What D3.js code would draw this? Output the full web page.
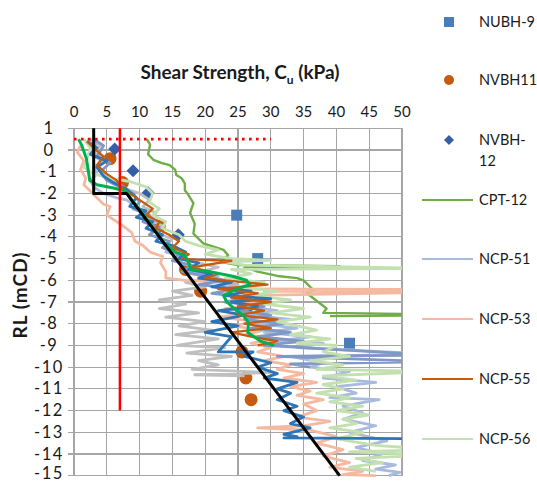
<!DOCTYPE html>
<html>
<head>
<meta charset="utf-8">
<script src="https://cdn.jsdelivr.net/npm/d3@7"></script>
<style>
  html, body { margin: 0; padding: 0; background: #fff; }
  svg { display: block; }
  text { font-family: Lato, "Open Sans", sans-serif; fill: #1a1a1a; }
</style>
</head>
<body>
<script>
// Axis ticks
const xTicks = [0, 5, 10, 15, 20, 25, 30, 35, 40, 45, 50];
const yTicks = [1, 0, -1, -2, -3, -4, -5, -6, -7, -8, -9, -10, -11, -12, -13, -14, -15];

// Laboratory / in-situ test points [Cu (kPa), RL (mCD)]
const nubh9 = [[24.8, -3.0], [28.0, -5.0], [42.0, -8.9]];
const nvbh11 = [[5.5, -0.4], [7.4, -1.5], [13.0, -3.5], [17.0, -5.5], [19.3, -6.5], [25.6, -9.3], [26.2, -10.5], [27.0, -11.5]];
const nvbh12 = [[6.2, 0.05], [9.0, -0.95], [11.3, -1.97], [15.9, -3.9], [20.6, -5.8], [26.5, -7.3]];

// CPT-derived profiles [Cu (kPa), RL (mCD)]
const cpt12 = [[11.1, 0.5], [11.6, 0.25], [11.3, -0.2], [12.1, -0.45], [13.4, -0.6], [14.6, -0.7], [15.4, -0.9], [15.6, -1.15],
  [16.4, -1.3], [16.9, -1.55], [16.9, -1.85], [17.4, -2.05], [18.2, -2.45], [17.7, -2.9], [18.4, -3.4], [18.2, -3.85],
  [19.7, -4.3], [22.8, -4.6], [23.5, -4.85], [22.3, -5.15], [25.0, -5.3], [40.5, -5.35], [26.0, -5.4], [28.0, -5.6],
  [31.0, -5.8], [34.0, -5.9], [35.0, -6.0], [36.5, -6.45], [35.5, -6.6], [38.5, -7.3], [38.0, -7.5], [60.0, -7.6], [39.0, -7.65]];

const ncp51 = [[2, 0.5], [3.5, 0.3], [2.5, 0], [3, -0.3], [4.5, -0.5], [3, -0.8], [3.5, -1.1], [2.5, -1.4], [3, -1.7], [4.5, -2.0],
  [6.5, -2.2], [8, -2.3], [9.5, -2.6], [11, -2.9], [10, -3.1], [12.5, -3.3], [11, -3.6], [13.5, -3.9], [12.5, -4.2], [15, -4.4],
  [14, -4.7], [17, -4.9], [16, -5.2], [19, -5.4], [17.5, -5.6], [22, -5.8], [20, -6.0], [25, -6.2], [22, -6.4], [28, -6.6],
  [24, -6.8], [30, -7.0], [26, -7.2], [31, -7.4], [27, -7.6], [33, -7.8], [28, -8.0], [34, -8.2], [29, -8.4], [36, -8.6],
  [31, -8.8], [38, -8.9], [34, -9.1], [55, -9.4], [33, -9.5], [38, -9.8], [36, -10.0], [42, -10.2], [38, -10.5], [46, -10.7],
  [40, -10.9], [43, -11.2], [39, -11.4], [46.5, -11.5], [41, -11.8], [44, -12.1], [41, -12.4], [46, -12.7], [42, -13.0],
  [47.7, -13.4], [43, -13.7], [47, -14.0], [44, -14.3], [49, -14.5], [46, -14.7], [49.7, -14.85], [48, -15.0]];

const ncp53 = [[1, 0.2], [0.5, -0.1], [1.5, -0.5], [1, -0.9], [1.8, -1.3], [1.5, -1.6], [2.5, -1.9], [3.5, -2.2], [4.5, -2.5],
  [5.5, -2.6], [5, -3.0], [6.5, -3.3], [7.5, -3.5], [8.8, -3.8], [9.3, -4.2], [10.5, -4.4], [11.6, -4.7], [13.5, -4.9],
  [13.2, -5.2], [14, -5.6], [14, -5.9], [17, -6.0], [20, -6.05], [24, -6.1], [22, -6.3], [27, -6.4], [55, -6.42], [29, -6.5],
  [55, -6.55], [27, -6.7], [25, -6.9], [28, -7.1], [23, -7.3], [27, -7.5], [22, -7.7], [28, -7.9], [24, -8.1], [29, -8.3],
  [26, -8.5], [31, -8.7], [27, -8.9], [30, -9.1], [28, -9.3], [32, -9.5], [29, -9.7], [33, -9.9], [31, -10.1], [35, -10.3],
  [32, -10.5], [37, -10.7], [33, -10.9], [36, -11.1], [34, -11.3], [38, -11.5], [35, -11.7], [37, -12.0], [34, -12.3],
  [39, -12.5], [35, -12.7], [28, -12.8], [36, -12.9], [40, -13.2], [37, -13.5], [41, -13.8], [38, -14.1], [42, -14.4],
  [39, -14.6], [44, -14.8], [41, -14.95], [46, -15.0]];

const ncp55 = [[2, 0.4], [3, 0.1], [4.5, -0.3], [3.5, -0.7], [5, -1.1], [6.5, -1.4], [7.5, -1.8], [9, -2.1], [10.5, -2.4],
  [12, -2.7], [11, -3.0], [13, -3.3], [12.5, -3.6], [14.5, -3.9], [16, -4.2], [15, -4.5], [17.5, -4.8], [16.5, -5.0],
  [18.7, -5.05], [24, -5.1], [18, -5.4], [22, -5.7], [20, -5.9], [23, -6.0], [29.5, -6.2], [22, -6.4], [28, -6.6],
  [24, -6.8], [30, -7.0], [25, -7.2], [29, -7.4], [25, -7.6], [31, -7.8], [26, -8.0], [30, -8.2], [24, -8.4], [27, -8.6],
  [31, -8.8], [28, -9.0]];

const ncp56 = [[1.5, 0.5], [2.5, 0.1], [2, -0.4], [1.5, -0.8], [3, -1.1], [5.5, -1.3], [8.5, -1.45], [11, -1.7], [12, -2.0],
  [11.5, -2.4], [13, -2.7], [12, -3.0], [14, -3.3], [13.5, -3.6], [16, -3.9], [17, -4.2], [19, -4.4], [22, -4.6], [20, -4.8],
  [24, -5.0], [30, -5.08], [23, -5.15], [26, -5.3], [55, -5.45], [24, -5.5], [27, -5.7], [23, -5.9], [29, -6.1], [25, -6.3],
  [31, -6.5], [27, -6.7], [33, -6.9], [29, -7.1], [35, -7.3], [30, -7.5], [36, -7.7], [31, -7.9], [34, -8.1], [37, -8.3],
  [33, -8.5], [39, -8.7], [34, -8.9], [40, -9.0], [38, -9.3], [42, -9.5], [36, -9.7], [41, -9.9], [37, -10.1], [55, -10.2],
  [38, -10.4], [43, -10.6], [38, -10.8], [41, -11.0], [37, -11.2], [42, -11.4], [39, -11.6], [44, -11.8], [40, -12.0],
  [45, -12.2], [41, -12.4], [43, -12.6], [39, -12.8], [44, -13.0], [40, -13.3], [46, -13.6], [55, -13.8], [42, -13.9],
  [55, -14.05], [43, -14.2], [47, -14.4], [42, -14.6], [46, -14.8]];

// Further CPT profiles plotted without a legend entry
const ncpGrey = [[2.5, 0.5], [4, 0.2], [3, -0.1], [4.5, -0.4], [3.5, -0.8], [5, -1.2], [6.5, -1.5], [8, -1.8], [10, -2.0],
  [11.5, -2.3], [10.5, -2.6], [12.5, -2.9], [11.5, -3.2], [13.5, -3.5], [12.5, -3.8], [15, -4.1], [14, -4.4], [17, -4.7],
  [16, -5.0], [19, -5.2], [22, -5.4], [18, -5.7], [21, -5.9], [17, -6.1], [20, -6.3], [15, -6.5], [18, -6.7], [13, -6.9],
  [17, -7.1], [13, -7.3], [19, -7.5], [14, -7.7], [20, -7.9], [16, -8.1], [21, -8.3], [15.5, -8.5], [22, -8.7], [15.7, -9.0],
  [23, -9.1], [17.2, -9.35], [24, -9.5], [19, -9.7], [22, -9.9], [18, -10.1], [30, -10.25], [18.4, -10.35], [26, -10.4]];

const ncpDark = [[2, 0.4], [3.5, 0.1], [2.5, -0.2], [5, -0.5], [3.5, -0.8], [4.5, -1.2], [6, -1.5], [8, -1.8], [9.5, -2.2],
  [8.5, -2.6], [11, -2.8], [9.5, -3.1], [12, -3.3], [11, -3.6], [13.5, -3.9], [12.5, -4.2], [15, -4.4], [17, -4.7], [16, -5.0],
  [19, -5.2], [17.5, -5.5], [21, -5.7], [19, -5.9], [24, -6.1], [21, -6.3], [27, -6.5], [23, -6.7], [30, -6.85], [24, -7.0],
  [28, -7.2], [22, -7.4], [26, -7.6], [21, -7.9], [25, -8.1], [20, -8.4], [24, -8.6], [22, -9.3], [27.3, -9.3], [26, -9.5],
  [30, -9.8], [28, -10.0], [31, -10.3], [29, -10.5], [34, -10.7], [31, -11.0], [33, -11.2], [31, -11.5], [34, -11.8],
  [32, -12.0], [35, -12.3], [33, -12.6], [36, -12.8], [32, -13.1], [34, -13.2], [32, -13.26], [55, -13.3]];

const ncpSlate = [[3, 0.5], [4.5, 0.2], [3.5, -0.3], [5.5, -0.6], [4, -1.0], [5, -1.4], [7, -1.7], [9, -2.0], [10, -2.4],
  [9, -2.7], [11.5, -3.0], [10.5, -3.3], [13, -3.6], [11.5, -3.9], [14.5, -4.2], [13.5, -4.5], [16, -4.8], [15, -5.1],
  [18, -5.3], [16.5, -5.6], [20, -5.8], [23, -6.0], [19, -6.2], [25, -6.4], [21, -6.6], [27, -6.8], [23, -7.0], [29, -7.2],
  [25, -7.4], [30, -7.6], [26, -7.8], [32, -8.0], [27, -8.2], [33, -8.4], [28, -8.6], [35, -8.8], [29, -9.0], [55, -9.45],
  [31, -9.5], [55, -9.75], [33, -9.85], [36, -10.0]];

// Design line and reference lines
const designLine = [[0.7, 0.5], [1.2, 0.2], [1.9, -0.4], [2.2, -1.0], [2.4, -1.4], [3.5, -1.6], [6, -1.75], [8, -1.9], [8.6, -2.2],
  [9.6, -2.6], [10.6, -3.0], [11.6, -3.4], [12.8, -3.9], [13.8, -4.3], [15.5, -4.7], [16.9, -4.85], [17.5, -5.2], [17.8, -5.5],
  [20.7, -5.6], [24, -5.8], [26.3, -6.0], [26.8, -6.2], [24.8, -6.4], [22.8, -6.7], [23.3, -7.0], [24.8, -7.4], [25.8, -7.6],
  [26.6, -7.95], [26.5, -8.4], [28.4, -8.8], [30.5, -9.0]];
const boundLine = [[3, 1], [3, -2], [8, -2], [40.5, -15]];
const redVertical = [[7, 1], [7, -12]];
const redDotted = [[0, 0.5], [30, 0.5]];

const W = 537, H = 483;
const x = d3.scaleLinear().domain([0, 50]).range([74, 402]);
const y = d3.scaleLinear().domain([1, -15]).range([128.3, 475.7]);

const svg = d3.select("body").append("svg").attr("width", W).attr("height", H);

svg.append("clipPath").attr("id", "plot")
  .append("rect").attr("x", x(0)).attr("y", y(1) - 2).attr("width", x(50) - x(0)).attr("height", y(-15) - y(1) + 4);

// Grid
const grid = svg.append("g").attr("stroke", "#a6a6a6").attr("stroke-width", 1.2).attr("shape-rendering", "crispEdges");
grid.selectAll(".vx").data(xTicks).join("line")
  .attr("x1", d => x(d)).attr("x2", d => x(d)).attr("y1", y(1)).attr("y2", y(-15));
grid.selectAll(".hy").data(yTicks).join("line")
  .attr("x1", x(0) - 6).attr("x2", x(50)).attr("y1", d => y(d)).attr("y2", d => y(d));

// Tick labels
svg.append("g").selectAll("text").data(xTicks).join("text")
  .attr("x", d => x(d)).attr("y", 117).attr("text-anchor", "middle").attr("font-size", 15).text(d => d);
// the lowest label sits against the bottom edge, so it is lifted slightly
svg.append("g").selectAll("text").data(yTicks).join("text")
  .attr("x", 49).attr("y", d => Math.min(y(d), 473)).attr("dy", "0.34em").attr("text-anchor", "middle").attr("font-size", 16.5)
  .attr("letter-spacing", 1.5)
  .text(d => d < 0 ? "-" + Math.abs(d) : d);

// Axis titles
const title = svg.append("text").attr("x", 240).attr("y", 79).attr("text-anchor", "middle")
  .attr("font-size", 19).attr("font-weight", "bold");
title.append("tspan").text("Shear Strength, C");
title.append("tspan").attr("font-size", 12).attr("dy", 5).text("u");
title.append("tspan").attr("dy", -5).text(" (kPa)");

svg.append("text").attr("transform", "translate(27,295) rotate(-90)").attr("text-anchor", "middle")
  .attr("font-size", 19).attr("font-weight", "bold").attr("letter-spacing", 1).text("RL (mCD)");

const line = d3.line().x(d => x(d[0])).y(d => y(d[1]));
const plot = svg.append("g").attr("clip-path", "url(#plot)");

// Test points
const ptSq = 11, ptDia = 13;
plot.selectAll(".sq").data(nubh9).join("rect")
  .attr("x", d => x(d[0]) - ptSq / 2).attr("y", d => y(d[1]) - ptSq / 2)
  .attr("width", ptSq).attr("height", ptSq).attr("fill", "#4a7ebb");
plot.selectAll(".ci").data(nvbh11).join("circle")
  .attr("cx", d => x(d[0])).attr("cy", d => y(d[1])).attr("r", 6.5).attr("fill", "#c55a11");
plot.selectAll(".di").data(nvbh12).join("path")
  .attr("d", d3.symbol(d3.symbolSquare, ptDia * ptDia / 2))
  .attr("transform", d => `translate(${x(d[0])},${y(d[1])}) rotate(45)`).attr("fill", "#3560a8");

// Profiles
const traces = [
  { data: cpt12, color: "#70ad47", w: 2.4 },
  { data: ncpGrey, color: "#bfbfbf", w: 2.8 },
  { data: ncp51, color: "#a9badf", w: 2.8 },
  { data: ncp53, color: "#f4b9a0", w: 2.8 },
  { data: ncpSlate, color: "#7f98c6", w: 2.8 },
  { data: ncp56, color: "#c3e0b0", w: 2.8 },
  { data: ncpDark, color: "#2e75b6", w: 2.8 },
  { data: ncp55, color: "#c55a11", w: 2.3 },
  { data: designLine, color: "#00b050", w: 3 },
  { data: boundLine, color: "#000000", w: 3 },
  { data: redVertical, color: "#ff0000", w: 2.5 }
];
plot.selectAll(".tr").data(traces).join("path")
  .attr("d", d => line(d.data)).attr("fill", "none")
  .attr("stroke", d => d.color).attr("stroke-width", d => d.w).attr("stroke-linejoin", "round");
plot.append("path").attr("d", line(redDotted)).attr("fill", "none")
  .attr("stroke", "#ff0000").attr("stroke-width", 2.6).attr("stroke-dasharray", "2.6,4.4");

// Legend
const legend = svg.append("g");
const lx = 449, tx = 479;
legend.append("rect").attr("x", lx - 5).attr("y", 17).attr("width", 10).attr("height", 10).attr("fill", "#4a7ebb");
legend.append("circle").attr("cx", lx).attr("cy", 80).attr("r", 5).attr("fill", "#c55a11");
legend.append("path").attr("d", d3.symbol(d3.symbolSquare, 50)).attr("transform", `translate(${lx},140) rotate(45)`).attr("fill", "#3560a8");
const legendText = [["NUBH-9", 22], ["NVBH11", 80], ["NVBH-", 140], ["12", 161]];
legend.selectAll(".lt").data(legendText).join("text")
  .attr("x", tx).attr("y", d => d[1]).attr("dy", "0.36em").attr("font-size", 14.5).text(d => d[0]);
const legendLines = [["CPT-12", "#70ad47", 200], ["NCP-51", "#a9badf", 259], ["NCP-53", "#f4b9a0", 319], ["NCP-55", "#c55a11", 379], ["NCP-56", "#c3e0b0", 439]];
legend.selectAll(".ll").data(legendLines).join("line")
  .attr("x1", 422).attr("x2", 473).attr("y1", d => d[2]).attr("y2", d => d[2])
  .attr("stroke", d => d[1]).attr("stroke-width", 2.2);
legend.selectAll(".llt").data(legendLines).join("text")
  .attr("x", tx).attr("y", d => d[2]).attr("dy", "0.36em").attr("font-size", 14.5).text(d => d[0]);
</script>
</body>
</html>
